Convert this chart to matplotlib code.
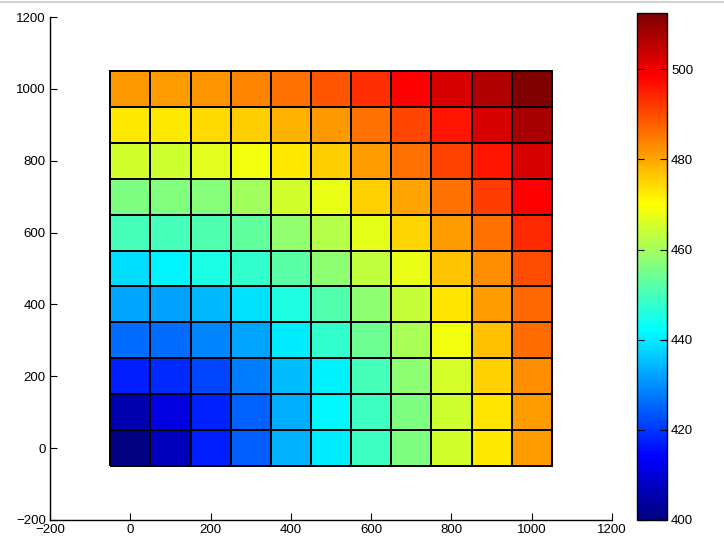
import numpy as np
import matplotlib
matplotlib.use("Agg")
import matplotlib.pyplot as plt
from matplotlib.lines import Line2D
from matplotlib.colors import LinearSegmentedColormap

#### data: cell values ####
# cell centres along x and y (100 apart), value rows listed from y=0 upwards
x_centres = [0, 100, 200, 300, 400, 500, 600, 700, 800, 900, 1000]
y_centres = [0, 100, 200, 300, 400, 500, 600, 700, 800, 900, 1000]

row_y0    = [400.0, 407.0, 417.4, 424.5, 433.8, 440.0, 449.0, 456.0, 465.3, 472.6, 481.0]
row_y100  = [405.3, 410.7, 418.0, 425.0, 433.0, 441.6, 449.0, 456.0, 464.7, 473.0, 481.0]
row_y200  = [417.4, 418.5, 421.7, 427.8, 435.0, 440.5, 449.8, 457.7, 465.8, 475.5, 483.0]
row_y300  = [426.0, 426.0, 429.0, 432.3, 440.0, 447.8, 454.3, 460.8, 468.6, 477.0, 486.5]
row_y400  = [432.3, 431.7, 434.5, 438.8, 445.6, 451.0, 457.7, 464.0, 473.0, 481.0, 487.0]
row_y500  = [438.4, 441.0, 445.0, 447.8, 452.0, 458.0, 463.3, 468.0, 476.5, 483.0, 490.0]
row_y600  = [449.8, 449.8, 450.8, 453.0, 458.2, 462.0, 467.5, 475.0, 481.0, 485.8, 494.0]
row_y700  = [456.2, 456.5, 456.8, 459.8, 465.3, 468.0, 475.5, 480.0, 485.8, 491.6, 498.0]
row_y800  = [465.3, 464.7, 467.0, 468.6, 472.6, 476.0, 481.0, 485.8, 491.0, 496.0, 502.4]
row_y900  = [472.6, 472.6, 474.3, 476.0, 478.8, 481.6, 485.8, 490.8, 496.2, 502.4, 508.0]
row_y1000 = [481.6, 481.0, 482.0, 483.5, 485.8, 489.0, 493.4, 498.0, 502.4, 507.0, 512.5]

cbar_ticks = [400, 420, 440, 460, 480, 500]
axis_ticks = [-200, 0, 200, 400, 600, 800, 1000, 1200]

values = np.array([row_y0, row_y100, row_y200, row_y300, row_y400, row_y500,
                   row_y600, row_y700, row_y800, row_y900, row_y1000])

# cell edges half a step either side of the centres
xc = np.array(x_centres, dtype=float)
yc = np.array(y_centres, dtype=float)
x_edges = np.concatenate([xc - 50, [xc[-1] + 50]])
y_edges = np.concatenate([yc - 50, [yc[-1] + 50]])

# matlab style jet, a bit different from matplotlib's own jet
matlab_jet = LinearSegmentedColormap('matlab_jet', {
    'red':   [(0, 0, 0), (0.375, 0, 0), (0.625, 1, 1), (0.875, 1, 1), (1, 0.5, 0.5)],
    'green': [(0, 0, 0), (0.125, 0, 0), (0.375, 1, 1), (0.625, 1, 1), (0.875, 0, 0), (1, 0, 0)],
    'blue':  [(0, 0.5, 0.5), (0.125, 1, 1), (0.375, 1, 1), (0.625, 0, 0), (1, 0, 0)],
}, N=256)

plt.rcParams['font.family'] = ['Liberation Sans', 'DejaVu Sans']

fig = plt.figure(figsize=(7.24, 5.42), dpi=100)
ax = fig.add_axes([50 / 724, 22 / 542, 562 / 724, 503 / 542])
cax = fig.add_axes([637 / 724, 22 / 542, 30 / 724, 507 / 542])

mesh = ax.pcolormesh(x_edges, y_edges, values, cmap=matlab_jet, vmin=400, vmax=512.5,
                     edgecolors='black', linewidth=1.3)

ax.set_xlim(-200, 1200)
ax.set_ylim(-200, 1200)
ax.set_xticks(axis_ticks)
ax.set_yticks(axis_ticks)
ax.spines['top'].set_visible(False)
ax.spines['right'].set_visible(False)
for side in ['left', 'bottom']:
    ax.spines[side].set_linewidth(1.0)
ax.tick_params(direction='in', length=5, width=0.8, labelsize=9.5, pad=3)

cb = fig.colorbar(mesh, cax=cax)
cb.set_ticks(cbar_ticks)
cb.outline.set_linewidth(1.0)
cax.tick_params(direction='in', length=5, width=0.8, labelsize=9.5,
                left=True, right=True, pad=3)

# thin grey edge at the top of the screenshot
fig.add_artist(Line2D([0, 1], [0.996, 0.996], color='#c8c8c8', linewidth=1.2))

fig.savefig('out.png', dpi=100)
